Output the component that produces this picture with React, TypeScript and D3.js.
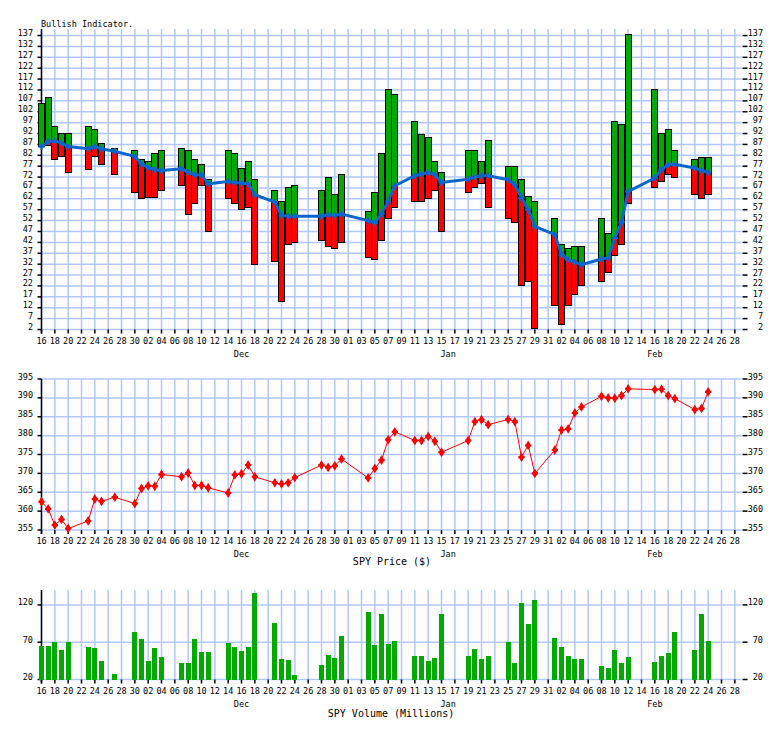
import * as d3 from "d3";

// trading days, Nov 2020 - Feb 2021
const dates = [
  "2020-11-16", "2020-11-17", "2020-11-18", "2020-11-19", "2020-11-20",
  "2020-11-23", "2020-11-24", "2020-11-25", "2020-11-27", "2020-11-30",
  "2020-12-01", "2020-12-02", "2020-12-03", "2020-12-04", "2020-12-07",
  "2020-12-08", "2020-12-09", "2020-12-10", "2020-12-11", "2020-12-14",
  "2020-12-15", "2020-12-16", "2020-12-17", "2020-12-18", "2020-12-21",
  "2020-12-22", "2020-12-23", "2020-12-24", "2020-12-28", "2020-12-29",
  "2020-12-30", "2020-12-31", "2021-01-04", "2021-01-05", "2021-01-06",
  "2021-01-07", "2021-01-08", "2021-01-11", "2021-01-12", "2021-01-13",
  "2021-01-14", "2021-01-15", "2021-01-19", "2021-01-20", "2021-01-21",
  "2021-01-22", "2021-01-25", "2021-01-26", "2021-01-27", "2021-01-28",
  "2021-01-29", "2021-02-01", "2021-02-02", "2021-02-03", "2021-02-04",
  "2021-02-05", "2021-02-08", "2021-02-09", "2021-02-10", "2021-02-11",
  "2021-02-12", "2021-02-16", "2021-02-17", "2021-02-18", "2021-02-19",
  "2021-02-22", "2021-02-23", "2021-02-24",
];

// bullish indicator: top of green bar, bottom of red bar, moving average
const bullHigh = [
  106, 108.7, 95, 92, 92, 95, 94, 87.6, 85, 84,
  80, 79, 83, 84, 85, 84, 80, 78, 71, 84,
  83, 76, 79, 71, 66, 61, 67, 68, 66, 72,
  64, 73, 56, 65, 83, 112, 110, 97.5, 91.7, 90,
  79, 74, 84, 84, 79, 89, 77, 77, 71, 63,
  61, 53, 41, 39, 40, 40, 53, 46, 97.5, 96,
  137.6, 112, 92, 94, 84, 80, 81, 81,
];
const bullLow = [
  86, 86.5, 80, 81.6, 74, 75.7, 81.6, 78, 73, 64.7,
  62, 62.8, 62.8, 66, 68, 55, 60, 68, 47, 62,
  60, 57, 58, 32, 33, 15, 41, 42, 43, 40,
  39, 42, 35, 34, 43, 53, 58, 61, 61, 62,
  66, 47, 65, 67, 69, 58, 53, 51, 22, 24,
  2.3, 13, 4.3, 13, 18, 22, 24, 28, 36, 41,
  60, 67, 70, 73, 72, 64, 62, 64,
];
const bullAvg = [
  86, 88.3, 88.6, 87.6, 86, 85, 86, 85, 83.8, 81.5,
  78, 76.4, 75.4, 75, 75.8, 74.3, 73, 73, 68.9, 70,
  69.5, 69.2, 68.9, 63.9, 60.5, 54.4, 54, 54, 54, 54.7,
  54.4, 55, 52, 50.9, 55.2, 60.8, 68, 72.6, 73.4, 74.1,
  73.1, 69.5, 71, 72, 72.6, 72.6, 70.8, 68.5, 62.4, 57,
  49.4, 45.6, 36.4, 34.1, 32.9, 31.8, 34.4, 34.9, 44, 51.2,
  65.4, 71.5, 75.4, 77.7, 77.9, 76.1, 75, 74.1,
];

// SPY close ($)
const spyPrice = [
  362.5, 360.6, 356.3, 357.8, 355.4, 357.4, 363.2, 362.6, 363.7, 362.0,
  366.0, 366.7, 366.6, 369.7, 369.1, 370.1, 366.8, 366.8, 366.2, 364.8,
  369.6, 369.9, 372.2, 369.1, 367.5, 367.2, 367.5, 368.9, 372.2, 371.6,
  372.0, 373.8, 368.8, 371.3, 373.5, 378.9, 381.0, 378.7, 378.7, 379.8,
  378.5, 375.6, 378.7, 383.7, 384.2, 382.9, 384.3, 383.7, 374.3, 377.4,
  370.0, 376.2, 381.5, 381.8, 386.0, 387.6, 390.4, 390.0, 389.9, 390.6,
  392.4, 392.2, 392.3, 390.6, 389.8, 386.9, 387.2, 391.6,
];

// SPY volume (millions)
const spyVolume = [
  64.8, 64.8, 70.2, 59.5, 70.2, 63.5, 62.2, 45.1, 27.2, 83.7,
  74.3, 45.1, 62.2, 50, 42, 42, 74.3, 56.8, 56.8, 68.9,
  63.5, 58.1, 63.5, 136.1, 95.8, 47.4, 46, 25.8, 39.3, 52.7,
  48.7, 78.3, 110.6, 66.2, 108.3, 67.5, 71.6, 51.4, 51.4, 44.7,
  48.7, 107.9, 51.4, 60.8, 47.4, 51.4, 70.2, 42, 122.7, 94.9,
  126.7, 75.6, 63.5, 51.4, 47.4, 47.4, 37.9, 35.2, 59.5, 42,
  50, 43.3, 51.4, 55.4, 83.7, 59.5, 107.9, 71.6,
];

const bullTicks = d3.range(2, 138, 5);
const priceTicks = d3.range(355, 396, 5);
const volumeTicks = [20, 70, 120];
const monthLabels = ["Dec", "Jan", "Feb"];

const W = 784;
const H = 729;
const LEFT = 41.5;
const RIGHT = 741.5;
const GRID = "#b0c8ff";
const GREEN = "#00aa00";
const BLUE = "#0a66cc";
const MONO = "'DejaVu Sans Mono', monospace";

const parse = d3.utcParse("%Y-%m-%d");
const days = dates.map((d) => parse(d) as Date);
const start = new Date(Date.UTC(2020, 10, 16));
const end = new Date(Date.UTC(2021, 2, 1));

const x = d3.scaleUtc().domain([start, end]).range([LEFT, RIGHT]);
const dayTicks = d3.utcDay.range(start, end, 2);
const monthPos = d3.utcMonth
  .range(new Date(Date.UTC(2020, 11, 1)), end)
  .map((m) => d3.utcDay.offset(m, 15));

const yBull = d3.scaleLinear().domain([2, 140]).range([329.5, 29]);
const yPrice = d3.scaleLinear().domain([355, 395]).range([530, 379]);
const yVol = d3.scaleLinear().domain([20, 140]).range([679.5, 590]);

function Frame({
  y,
  ticks,
  fmt,
}: {
  y: d3.ScaleLinear<number, number>;
  ticks: number[];
  fmt: (v: number) => string;
}) {
  const [bottom, top] = y.range();
  return (
    <g>
      {dayTicks.map((d, i) => (
        <line key={"v" + i} x1={x(d)} x2={x(d)} y1={top} y2={bottom}
          stroke={GRID} strokeWidth={1.5} />
      ))}
      {ticks.map((t) => (
        <line key={"h" + t} x1={LEFT} x2={RIGHT} y1={y(t)} y2={y(t)}
          stroke={GRID} strokeWidth={1.5} />
      ))}
      <line x1={LEFT} x2={LEFT} y1={top} y2={bottom + 4} stroke="#000" strokeWidth={1.5} />
      {ticks.map((t) => (
        <g key={"t" + t} fontFamily={MONO} fontSize={8.5} fill="#000">
          <line x1={LEFT - 4} x2={LEFT} y1={y(t)} y2={y(t)} stroke="#000" strokeWidth={1.5} />
          <line x1={RIGHT + 1} x2={RIGHT + 6} y1={y(t)} y2={y(t)} stroke="#000" strokeWidth={1.5} />
          <text x={33} y={y(t) + 0.5} textAnchor="end">{fmt(t)}</text>
          <text x={763} y={y(t) + 0.5} textAnchor="end">{fmt(t)}</text>
        </g>
      ))}
      {dayTicks.map((d, i) => (
        <g key={"d" + i}>
          <line x1={x(d)} x2={x(d)} y1={bottom} y2={bottom + 4} stroke="#000" strokeWidth={1.5} />
          <text x={x(d)} y={bottom + 14} textAnchor="middle" fontFamily={MONO}
            fontSize={8.5}>{d3.utcFormat("%d")(d)}</text>
        </g>
      ))}
      {monthPos.map((m, i) => (
        <text key={"m" + i} x={x(m)} y={bottom + 27} textAnchor="middle"
          fontFamily={MONO} fontSize={8.5}>{monthLabels[i]}</text>
      ))}
    </g>
  );
}

export default function App() {
  const avgLine = d3
    .line<number>()
    .x((_, i) => x(days[i]))
    .y((v) => yBull(v));
  const priceLine = d3
    .line<number>()
    .x((_, i) => x(days[i]))
    .y((v) => yPrice(v));
  const cross = d3.symbol(d3.symbolCross, 22)() as string;
  const diamond = d3.symbol(d3.symbolDiamond, 28)() as string;
  const pcross = d3.symbol(d3.symbolCross, 22)() as string;

  return (
    <svg width={W} height={H} style={{ position: "absolute", left: 0, top: 0, background: "#fff" }}>
      <rect width={W} height={H} fill="#fff" />

      {/* bullish indicator */}
      <text x={41} y={27} fontFamily={MONO} fontSize={8.5}>Bullish Indicator.</text>
      <Frame y={yBull} ticks={bullTicks} fmt={(v) => String(v)} />
      {days.map((d, i) => {
        const cx = x(d);
        const mid = yBull(bullAvg[i]);
        return (
          <g key={"b" + i} stroke="#000" strokeWidth={1} shapeRendering="crispEdges">
            {bullHigh[i] > bullAvg[i] && (
              <rect x={cx - 3} y={yBull(bullHigh[i])} width={6}
                height={mid - yBull(bullHigh[i])} fill={GREEN} />
            )}
            {bullLow[i] < bullAvg[i] && (
              <rect x={cx - 3} y={mid} width={6}
                height={yBull(bullLow[i]) - mid} fill="#ff0000" />
            )}
          </g>
        );
      })}
      <path d={avgLine(bullAvg) ?? ""} fill="none" stroke={BLUE} strokeWidth={3} />
      {days.map((d, i) => (
        <path key={"a" + i} d={cross}
          transform={`translate(${x(d)},${yBull(bullAvg[i])})`} fill={BLUE} />
      ))}

      {/* SPY price */}
      <Frame y={yPrice} ticks={priceTicks} fmt={(v) => String(v)} />
      <path d={priceLine(spyPrice) ?? ""} fill="none" stroke="#ff0000" strokeWidth={1} />
      {days.map((d, i) => (
        <g key={"p" + i} transform={`translate(${x(d)},${yPrice(spyPrice[i])})`} fill="#ff0000">
          <path d={diamond} />
          <path d={pcross} />
        </g>
      ))}
      <text x={392} y={565} textAnchor="middle" fontFamily={MONO} fontSize={10}>SPY Price ($)</text>

      {/* SPY volume */}
      <Frame y={yVol} ticks={volumeTicks} fmt={(v) => String(v)} />
      {days.map((d, i) => (
        <rect key={"vb" + i} x={x(d) - 2.5} y={yVol(spyVolume[i])} width={5}
          height={yVol(20) - yVol(spyVolume[i])} fill={GREEN} shapeRendering="crispEdges" />
      ))}
      <text x={391} y={717} textAnchor="middle" fontFamily={MONO} fontSize={10}>SPY Volume (Millions)</text>
    </svg>
  );
}
